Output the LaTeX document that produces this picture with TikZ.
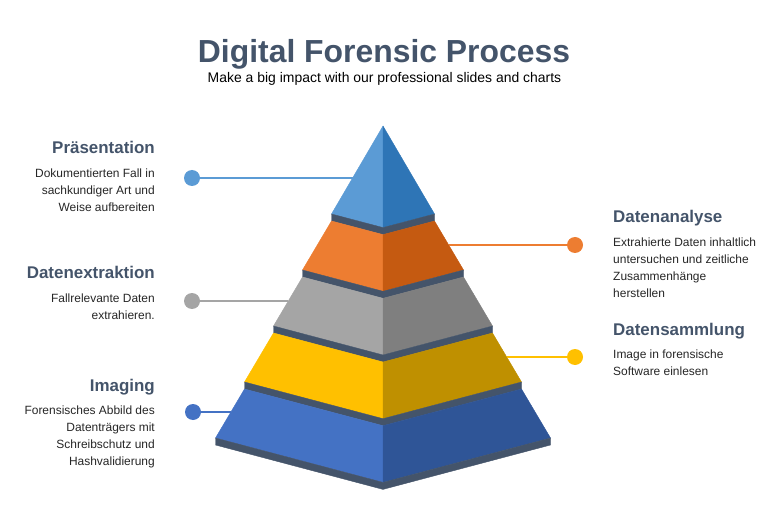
\documentclass[tikz,border=0pt]{standalone}
\usepackage{fontspec}
\setmainfont{Liberation Sans}
\usetikzlibrary{positioning}
\definecolor{slate}{HTML}{44546A}
\definecolor{ink}{HTML}{262626}
\definecolor{skyL}{HTML}{5B9BD5}
\definecolor{skyD}{HTML}{2E75B6}
\definecolor{orangeL}{HTML}{ED7D31}
\definecolor{orangeD}{HTML}{C55A11}
\definecolor{greyL}{HTML}{A5A5A5}
\definecolor{greyD}{HTML}{7F7F7F}
\definecolor{goldL}{HTML}{FFC000}
\definecolor{goldD}{HTML}{BF9000}
\definecolor{royalL}{HTML}{4472C4}
\definecolor{royalD}{HTML}{2F5597}

\begin{document}
\begin{tikzpicture}[x=1bp,y=-1bp]
        \tikzstyle{titre} = [anchor=base, inner sep=0pt, font=\bfseries\fontsize{32}{36}\selectfont, text=slate]
        \tikzstyle{sous_titre} = [anchor=base, inner sep=0pt, font=\fontsize{14}{17}\selectfont, text=black]
        \tikzstyle{heading_left} = [anchor=base east, inner sep=0pt, font=\bfseries\fontsize{17}{20}\selectfont, text=slate]
        \tikzstyle{heading_right} = [anchor=base west, inner sep=0pt, font=\bfseries\fontsize{17}{20}\selectfont, text=slate]
        \tikzstyle{desc_left} = [inner sep=0pt, align=right, font=\fontsize{12}{17}\selectfont, text=ink]
        \tikzstyle{desc_right} = [inner sep=0pt, align=left, font=\fontsize{12}{17}\selectfont, text=ink]
        \tikzstyle{dot} = [circle, inner sep=0pt, minimum size=16bp]
        \tikzstyle{face} = [line width=0.4bp, line join=round]
        \tikzstyle{connector} = [line width=1.2bp]
        \useasboundingbox (0,0) rectangle (768,519);
        \node (title) [titre] at (384,63) {Digital Forensic Process};
        \node (subtitle) [sous_titre] at (384.5,82.7) {Make a big impact with our professional slides and charts};
        % pyramid, top to bottom
        \filldraw[face, skyL] (383,126) -- (331.5,214) -- (383,227.6) -- cycle;
        \filldraw[face, skyD] (383,126) -- (434.5,214) -- (383,227.6) -- cycle;
        \filldraw[face, slate] (331.5,214) -- (383,227.6) -- (434.5,214) -- (434.5,221) -- (383,234.6) -- (331.5,221) -- cycle;
        \filldraw[face, orangeL] (331.5,221) -- (383,234.6) -- (383,291.3) -- (302.5,270) -- cycle;
        \filldraw[face, orangeD] (434.5,221) -- (383,234.6) -- (383,291.3) -- (463.5,270) -- cycle;
        \filldraw[face, slate] (302.5,270) -- (383,291.3) -- (463.5,270) -- (463.5,277) -- (383,298.3) -- (302.5,277) -- cycle;
        \filldraw[face, greyL] (302.5,277) -- (383,298.3) -- (383,355) -- (273.5,326) -- cycle;
        \filldraw[face, greyD] (463.5,277) -- (383,298.3) -- (383,355) -- (492.5,326) -- cycle;
        \filldraw[face, slate] (273.5,326) -- (383,355) -- (492.5,326) -- (492.5,333) -- (383,362) -- (273.5,333) -- cycle;
        \filldraw[face, goldL] (273.5,333) -- (383,362) -- (383,418.7) -- (244.5,382) -- cycle;
        \filldraw[face, goldD] (492.5,333) -- (383,362) -- (383,418.7) -- (521.5,382) -- cycle;
        \filldraw[face, slate] (244.5,382) -- (383,418.7) -- (521.5,382) -- (521.5,389) -- (383,425.7) -- (244.5,389) -- cycle;
        \filldraw[face, royalL] (244.5,389) -- (383,425.7) -- (383,482.4) -- (215.5,438) -- cycle;
        \filldraw[face, royalD] (521.5,389) -- (383,425.7) -- (383,482.4) -- (550.5,438) -- cycle;
        \filldraw[face, slate] (215.5,438) -- (383,482.4) -- (550.5,438) -- (550.5,445) -- (383,489.4) -- (215.5,445) -- cycle;
        % points on the pyramid edges
        \coordinate (praesentation_edge) at (352.6,178);
        \coordinate (datenanalyse_edge) at (448.7,245);
        \coordinate (datenextraktion_edge) at (288.3,301);
        \coordinate (datensammlung_edge) at (506.7,357);
        \coordinate (imaging_edge) at (230.9,412);
        % dots and connectors
        \node (praesentation_dot) [dot, fill=skyL] at (192,178) {};
        \node (datenanalyse_dot) [dot, fill=orangeL] at (575,245) {};
        \node (datenextraktion_dot) [dot, fill=greyL] at (192,301) {};
        \node (datensammlung_dot) [dot, fill=goldL] at (575,357) {};
        \node (imaging_dot) [dot, fill=royalL] at (193,412) {};
        \draw[connector, skyL] (praesentation_dot) -- (praesentation_edge);
        \draw[connector, orangeL] (datenanalyse_dot) -- (datenanalyse_edge);
        \draw[connector, greyL] (datenextraktion_dot) -- (datenextraktion_edge);
        \draw[connector, goldL] (datensammlung_dot) -- (datensammlung_edge);
        \draw[connector, royalL] (imaging_dot) -- (imaging_edge);
        % texts
        \node (praesentation) [heading_left] at (155,154) {Präsentation};
        \node (praesentation_text) [desc_left, below left=15bp and 0bp of praesentation.base east] {Dokumentierten Fall in\\sachkundiger Art und\\Weise aufbereiten};
        \node (datenextraktion) [heading_left] at (155,279) {Datenextraktion};
        \node (datenextraktion_text) [desc_left, below left=15bp and 0bp of datenextraktion.base east] {Fallrelevante Daten\\extrahieren.};
        \node (imaging) [heading_left] at (155,391) {Imaging};
        \node (imaging_text) [desc_left, below left=15bp and 0bp of imaging.base east] {Forensisches Abbild des\\Datenträgers mit\\Schreibschutz und\\Hashvalidierung};
        \node (datenanalyse) [heading_right] at (613,223) {Datenanalyse};
        \node (datenanalyse_text) [desc_right, below right=15bp and 0bp of datenanalyse.base west] {Extrahierte Daten inhaltlich\\untersuchen und zeitliche\\Zusammenhänge\\herstellen};
        \node (datensammlung) [heading_right] at (613,335) {Datensammlung};
        \node (datensammlung_text) [desc_right, below right=15bp and 0bp of datensammlung.base west] {Image in forensische\\Software einlesen};
\end{tikzpicture}
\end{document}
